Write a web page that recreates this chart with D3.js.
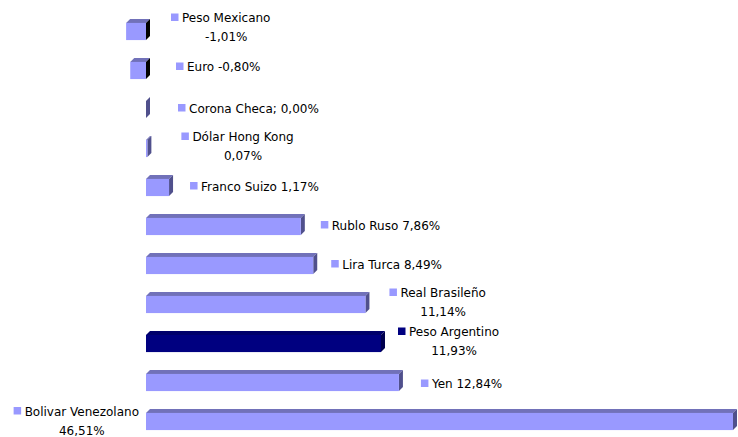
<!DOCTYPE html>
<html><head><meta charset="utf-8">
<script src="https://cdn.jsdelivr.net/npm/d3@7"></script>
<style>body{margin:0;background:#fff;}svg{display:block;}</style>
</head><body>
<svg id="c" width="738" height="437"></svg>
<script>
const categories = ["Peso Mexicano","Euro","Corona Checa","Dólar Hong Kong","Franco Suizo","Rublo Ruso","Lira Turca","Real Brasileño","Peso Argentino","Yen","Bolivar Venezolano"];
const values = [-1.01,-0.80,0.00,0.07,1.17,7.86,8.49,11.14,11.93,12.84,46.51];
const separators = [" "," ","; "," "," "," "," "," "," "," "," "];
const wrapped = [true,false,false,true,false,false,false,true,true,false,true];
const highlighted = [false,false,false,false,false,false,false,false,true,false,false];
// label layout (Excel auto-placement offsets)
const labelDx = [25,30,32,34,21,20,18,24,17,22,-7];
const labelDy = [-2,-2.5,0,0,0,0,0,0,0,2.5,1.5];

const svg = d3.select("#c");
const D = 4;
const x = d3.scaleLinear().domain([-5, 29.8]).range([146 - 5 * 587 / 29.8, 733]).clamp(true);
const y = d3.scaleBand().domain(categories).range([12, 441]).paddingInner(0.56).paddingOuter(0.28);
const fmt = v => v.toFixed(2).replace(".", ",") + "%";

const data = categories.map((c,i)=>({c, v: values[i], i}));
const g = svg.append("g");
data.forEach(d => {
  const x0 = x(Math.min(d.v,0)), x1 = x(Math.max(d.v,0));
  const yt = y(d.c), h = y.bandwidth();
  const hi = highlighted[d.i];
  const front = hi ? "#000080" : "#9999FF";
  const top = hi ? "#00006A" : "#7171B9";
  const side = d.v < 0 ? "#000000" : (hi ? "#00004E" : "#50508C");
  g.append("polygon").attr("fill", top)
    .attr("points", [[x0,yt],[x0+D,yt-D],[x1+D,yt-D],[x1,yt]].map(p=>p.join(",")).join(" "));
  g.append("polygon").attr("fill", side)
    .attr("points", [[x1,yt],[x1+D,yt-D],[x1+D,yt+h-D],[x1,yt+h]].map(p=>p.join(",")).join(" "));
  if (x1 - x0 > 0) g.append("rect").attr("x", x0).attr("y", yt).attr("width", x1-x0).attr("height", h).attr("fill", front);
});

const lg = svg.append("g").attr("font-family","DejaVu Sans, Verdana, sans-serif").attr("font-size", 12).attr("fill","#000");
data.forEach(d => {
  const i = d.i;
  const yc = y(d.c) + y.bandwidth()/2;
  const keyColor = highlighted[i] ? "#000080" : "#9999FF";
  const barEnd = x(Math.max(d.v,0));
  const line1 = wrapped[i] ? d.c : d.c + separators[i] + fmt(d.v);
  const b1 = wrapped[i] ? yc - 7.5 + labelDy[i] : yc + 3 + labelDy[i];
  const t1 = lg.append("text").attr("y", b1).text(line1);
  const w = t1.node().getComputedTextLength();
  let tx;
  if (labelDx[i] >= 0) { tx = barEnd + labelDx[i] + 11; }
  else { tx = x(0) + labelDx[i] - w; }
  t1.attr("x", tx);
  lg.append("rect").attr("x", tx - 11).attr("y", b1 - 8.5).attr("width", 7.5).attr("height", 7.5).attr("fill", keyColor);
  if (wrapped[i]) {
    lg.append("text").attr("x", tx + w/2).attr("y", b1 + 19).attr("text-anchor","middle").text(fmt(d.v));
  }
});
</script>
</body></html>
